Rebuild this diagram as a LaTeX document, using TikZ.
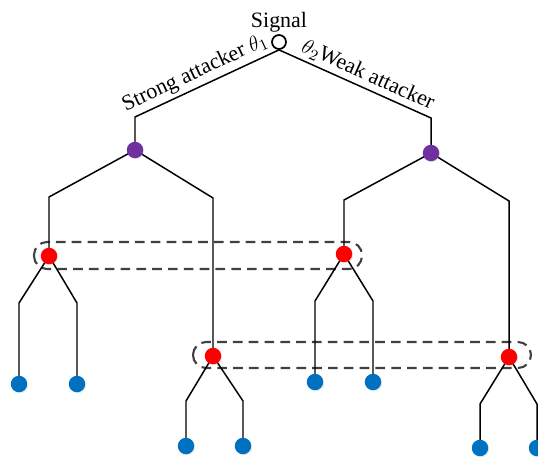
\documentclass[tikz,border=0pt]{standalone}
\usepackage{fontspec}
\setmainfont{Liberation Serif}
\usetikzlibrary{shadows,backgrounds}
\definecolor{leafblue}{RGB}{0,112,192}
\definecolor{typepurple}{RGB}{112,48,160}
\definecolor{setgray}{RGB}{64,64,64}
\begin{document}
\begin{tikzpicture}[x=0.02cm,y=-0.02cm,
        dot/.style={circle,inner sep=0pt,minimum size=0.33cm,drop shadow={opacity=0.15,shadow xshift=0.6pt,shadow yshift=-0.6pt}},
        branch/.style={draw=black,line width=0.85pt},
        infoset/.style={draw=setgray,line width=1.2pt,dash pattern=on 5.5pt off 3.5pt,rounded corners=0.26cm},
        font=\fontsize{12.5}{14}\selectfont]
    \useasboundingbox (0,0) rectangle (538,457);
    %% nature and the two attacker types
    \node[circle,draw,line width=1pt,inner sep=0pt,minimum size=0.28cm] (root) at (279,42) {};
    \node[anchor=south,inner sep=1pt] (sig) at (root.north) {Signal};
    \node[dot,fill=typepurple] (pA) at (135,150) {};
    \node[dot,fill=typepurple] (pB) at (431,153) {};
    %% defender nodes
    \node[dot,fill=red] (rA) at (49,256) {};
    \node[dot,fill=red] (rB) at (213,356) {};
    \node[dot,fill=red] (rC) at (344,254) {};
    \node[dot,fill=red] (rD) at (509,357) {};
    %% leaves
    \node[dot,fill=leafblue] (lA1) at (19,384) {};
    \node[dot,fill=leafblue] (lA2) at (77,384) {};
    \node[dot,fill=leafblue] (lB1) at (186,446) {};
    \node[dot,fill=leafblue] (lB2) at (243,446) {};
    \node[dot,fill=leafblue] (lC1) at (315,382) {};
    \node[dot,fill=leafblue] (lC2) at (373,382) {};
    \node[dot,fill=leafblue] (lD1) at (480,448) {};
    \node[dot,fill=leafblue] (lD2) at (537,448) {};
    %% elbows
    \coordinate (kA) at (135,117);
    \coordinate (kB) at (431,118);
    \coordinate (kA1) at (49,197);
    \coordinate (kA2) at (213,198);
    \coordinate (kB1) at (344,200);
    \coordinate (kB2) at (509,201);
    \coordinate (eA1) at (19,303);
    \coordinate (eA2) at (77,303);
    \coordinate (eC1) at (315,301);
    \coordinate (eC2) at (373,301);
    \coordinate (eB1) at (186,401);
    \coordinate (eB2) at (243,401);
    \coordinate (eD1) at (480,404);
    \coordinate (eD2) at (537,404);
    \begin{pgfonlayer}{background}
        %% information sets
        \draw[infoset] (34,242) rectangle (362,269);
        \draw[infoset] (193,342) rectangle (531,368);
        %% branches
        \path[branch] (root.south) -- (kA) node[pos=0.54,above,sloped,inner sep=2pt] {Strong attacker $\theta_1$} -- (pA.center);
        \path[branch] (root.south) -- (kB) node[pos=0.55,above,sloped,inner sep=2pt] {$\theta_2$Weak attacker} -- (pB.center);
        \path[branch] (pA.center) -- (kA1) -- (rA.center);
        \path[branch] (pA.center) -- (kA2) -- (rB.center);
        \path[branch] (pB.center) -- (kB1) -- (rC.center);
        \path[branch] (pB.center) -- (kB2) -- (rD.center);
        \path[branch] (rA.center) -- (eA1) -- (lA1.center);
        \path[branch] (rA.center) -- (eA2) -- (lA2.center);
        \path[branch] (rC.center) -- (eC1) -- (lC1.center);
        \path[branch] (rC.center) -- (eC2) -- (lC2.center);
        \path[branch] (rB.center) -- (eB1) -- (lB1.center);
        \path[branch] (rB.center) -- (eB2) -- (lB2.center);
        \path[branch] (rD.center) -- (eD1) -- (lD1.center);
        \path[branch] (rD.center) -- (eD2) -- (lD2.center);
    \end{pgfonlayer}
\end{tikzpicture}
\end{document}
